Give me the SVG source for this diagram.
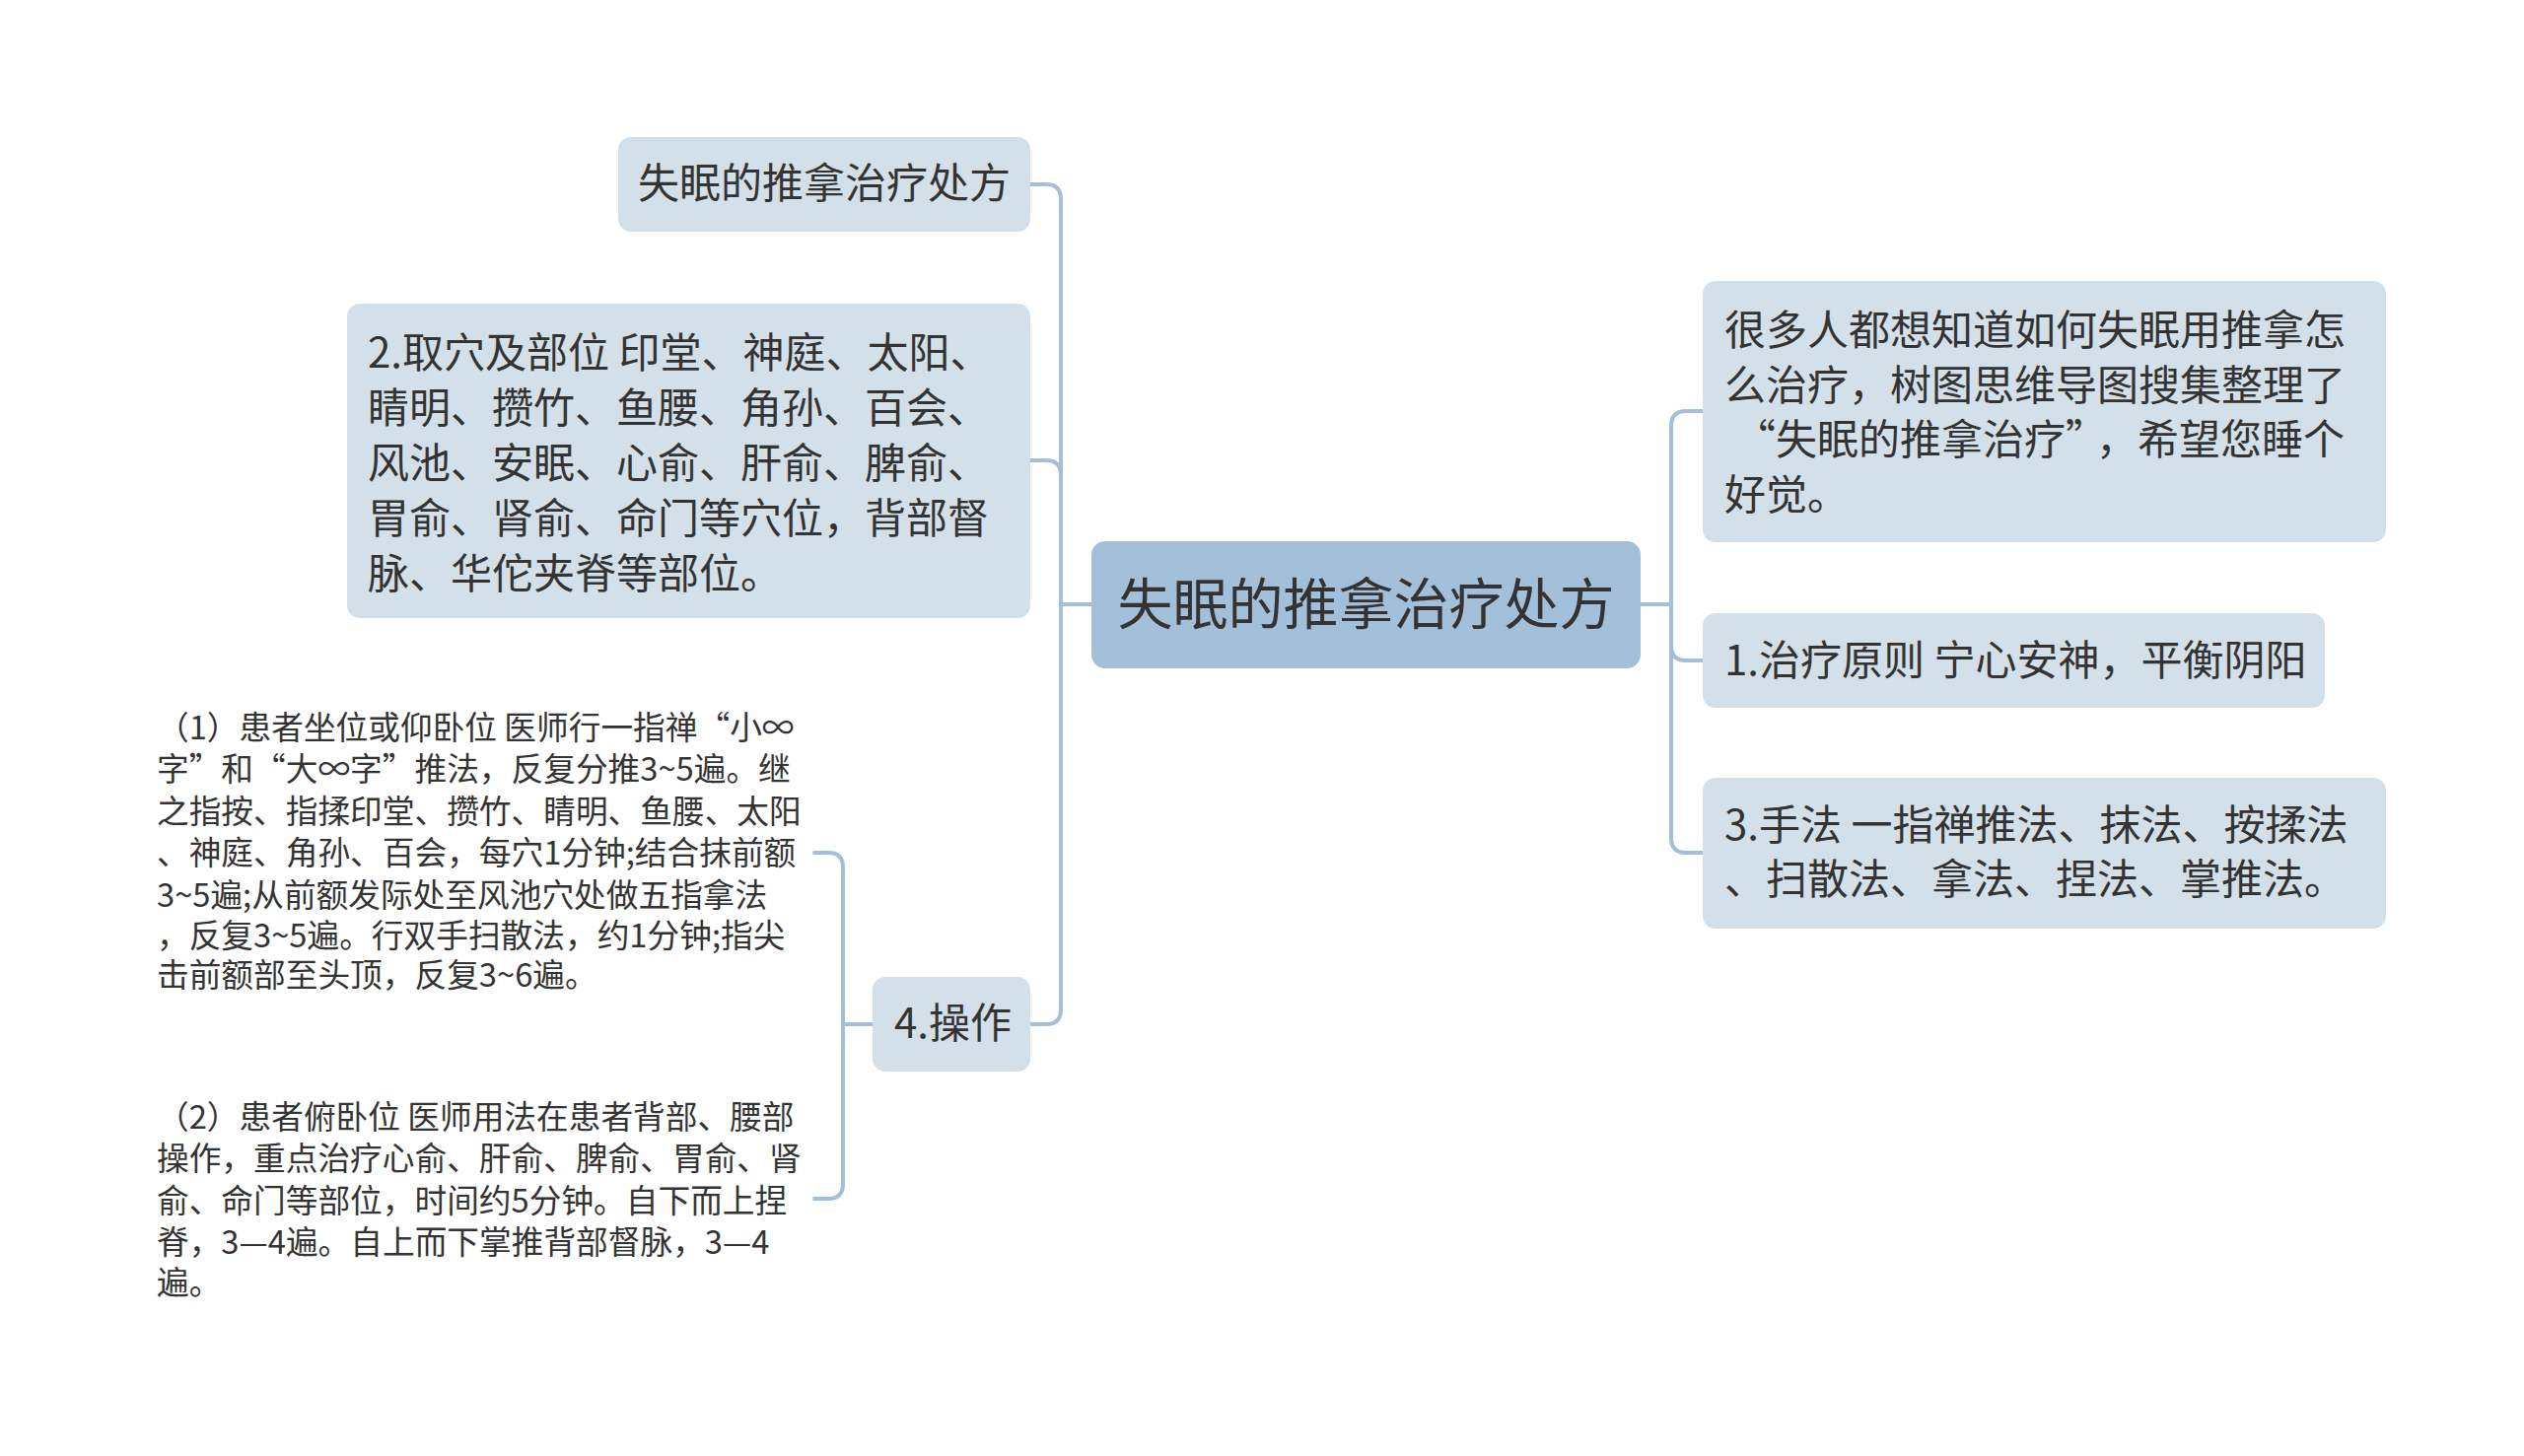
<svg xmlns="http://www.w3.org/2000/svg" width="2560" height="1477" viewBox="0 0 2560 1477">
<style>
.bg{fill:#ffffff}
.root{fill:#a3bfda}
.node{fill:#d4e0e9}
.t{font-family:"Noto Sans CJK SC","Liberation Sans",sans-serif;fill:#333333}
.tr{font-size:56px}
.tm{font-size:42px}
.ts{font-size:32.7px}
.c{fill:none;stroke:#a3bfda;stroke-width:4;stroke-linecap:round;stroke-linejoin:round}
</style>
<rect class="bg" x="0" y="0" width="2560" height="1477"/>
<g id="connectors">
<path class="c" d="M1107,613 H1076"/>
<path class="c" d="M1076,613 V202 Q1076,187 1061,187 H1045"/>
<path class="c" d="M1076,613 V482 Q1076,467 1061,467 H1045"/>
<path class="c" d="M1076,613 V1024 Q1076,1039 1061,1039 H1045"/>
<path class="c" d="M1664,613 H1695"/>
<path class="c" d="M1695,613 V432 Q1695,417 1710,417 H1727"/>
<path class="c" d="M1695,613 V655 Q1695,670 1710,670 H1727"/>
<path class="c" d="M1695,613 V850 Q1695,865 1710,865 H1727"/>
<path class="c" d="M885,1039 H855"/>
<path class="c" d="M855,1039 V880 Q855,865 840,865 H826"/>
<path class="c" d="M855,1039 V1201 Q855,1216 840,1216 H826"/>
</g>
<g id="root">
<rect class="root" x="1107" y="549" width="557" height="129" rx="14"/>
<text class="t tr" x="1385.5" y="633" text-anchor="middle">失眠的推拿治疗处方</text>
</g>
<g id="n-title">
<rect class="node" x="627" y="139" width="418" height="96" rx="13"/>
<text class="t tm" x="647" y="201">失眠的推拿治疗处方</text>
</g>
<g id="n-2">
<rect class="node" x="352" y="308" width="693" height="319" rx="13"/>
<text class="t tm" x="373" y="373">2.取穴及部位 印堂、神庭、太阳、</text>
<text class="t tm" x="373" y="429">睛明、攒竹、鱼腰、角孙、百会、</text>
<text class="t tm" x="373" y="485">风池、安眠、心俞、肝俞、脾俞、</text>
<text class="t tm" x="373" y="541">胃俞、肾俞、命门等穴位，背部督</text>
<text class="t tm" x="373" y="597">脉、华佗夹脊等部位。</text>
</g>
<g id="n-4">
<rect class="node" x="885" y="991" width="160" height="96" rx="13"/>
<text class="t tm" x="907" y="1053">4.操作</text>
</g>
<g id="n-4-1">
<text class="t ts" x="159" y="750">（1）患者坐位或仰卧位 医师行一指禅“小∞</text>
<text class="t ts" x="159" y="792">字”和“大∞字”推法，反复分推3~5遍。继</text>
<text class="t ts" x="159" y="835">之指按、指揉印堂、攒竹、睛明、鱼腰、太阳</text>
<text class="t ts" x="159" y="877">、神庭、角孙、百会，每穴1分钟;结合抹前额</text>
<text class="t ts" x="159" y="920">3~5遍;从前额发际处至风池穴处做五指拿法</text>
<text class="t ts" x="159" y="961">，反复3~5遍。行双手扫散法，约1分钟;指尖</text>
<text class="t ts" x="159" y="1001">击前额部至头顶，反复3~6遍。</text>
</g>
<g id="n-4-2">
<text class="t ts" x="159" y="1145">（2）患者俯卧位 医师用法在患者背部、腰部</text>
<text class="t ts" x="159" y="1187">操作，重点治疗心俞、肝俞、脾俞、胃俞、肾</text>
<text class="t ts" x="159" y="1230">俞、命门等部位，时间约5分钟。自下而上捏</text>
<text class="t ts" x="159" y="1272">脊，3—4遍。自上而下掌推背部督脉，3—4</text>
<text class="t ts" x="159" y="1313">遍。</text>
</g>
<g id="n-intro">
<rect class="node" x="1727" y="285" width="693" height="265" rx="13"/>
<text class="t tm" x="1749" y="350">很多人都想知道如何失眠用推拿怎</text>
<text class="t tm" x="1749" y="405.5">么治疗，树图思维导图搜集整理了</text>
<text class="t tm" x="1759" y="461">“失眠的推拿治疗”<tspan dx="10">，希望您睡个</tspan></text>
<text class="t tm" x="1749" y="516.5">好觉。</text>
</g>
<g id="n-1">
<rect class="node" x="1727" y="622" width="631" height="96" rx="13"/>
<text class="t tm" x="1749" y="685">1.治疗原则 宁心安神，平衡阴阳</text>
</g>
<g id="n-3">
<rect class="node" x="1727" y="789" width="693" height="153" rx="13"/>
<text class="t tm" x="1749" y="852">3.手法 一指禅推法、抹法、按揉法</text>
<text class="t tm" x="1749" y="907">、扫散法、拿法、捏法、掌推法。</text>
</g>
</svg>
